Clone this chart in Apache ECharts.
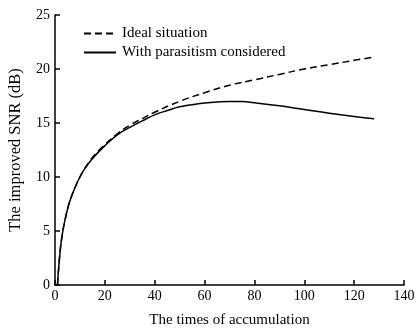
<!DOCTYPE html>
<html><head><meta charset="utf-8">
<script src="https://cdn.jsdelivr.net/npm/echarts@6/dist/echarts.min.js"></script>
<style>html,body{margin:0;padding:0;background:#fff}#c{width:420px;height:331px}</style>
</head><body><div id="c"></div>
<script>
const seriesNames = ['Ideal situation', 'With parasitism considered'];
const idealX = [1, 2, 3, 4, 5, 6, 8, 10, 12, 15, 20, 25, 30, 35, 40, 50, 60, 70, 80, 90, 100, 110, 120, 128];
const idealY = [0, 3.0, 4.8, 6.0, 7.0, 7.8, 9.0, 10.0, 10.8, 11.8, 13.0, 14.0, 14.8, 15.4, 16.0, 17.0, 17.8, 18.5, 19.0, 19.5, 20.0, 20.4, 20.8, 21.1];
const parasX = [1, 2, 3, 4, 5, 6, 8, 10, 12, 15, 20, 25, 30, 35, 40, 45, 50, 55, 60, 65, 70, 75, 80, 90, 100, 110, 120, 128];
const parasY = [0, 3.0, 4.8, 6.0, 7.0, 7.8, 9.0, 10.0, 10.8, 11.7, 12.9, 13.9, 14.6, 15.2, 15.75, 16.15, 16.5, 16.7, 16.85, 16.95, 17.0, 16.98, 16.87, 16.6, 16.25, 15.9, 15.6, 15.4];
const xTicks = [0, 20, 40, 60, 80, 100, 120, 140];
const yTicks = [0, 5, 10, 15, 20, 25];
const xName = 'The times of accumulation';
const yName = 'The improved SNR (dB)';

const font = 'Liberation Serif';
const chart = echarts.init(document.getElementById('c'));
const zip = (xs, ys) => xs.map((x, i) => [x, ys[i]]);
chart.setOption({
  animation: false,
  textStyle: { fontFamily: font },
  grid: { left: 55, right: 16, top: 15, bottom: 46, containLabel: false, outerBoundsMode: 'none' },
  legend: {
    left: 78, top: 21, orient: 'vertical', itemGap: 4, itemWidth: 32, itemHeight: 14,
    itemStyle: { opacity: 0 },
    textStyle: { fontFamily: font, fontSize: 15, color: '#000', padding: [0, 0, 0, 1] },
    data: seriesNames
  },
  xAxis: {
    type: 'value', min: xTicks[0], max: xTicks[xTicks.length - 1], interval: 20,
    name: xName, nameLocation: 'middle', nameGap: 28,
    nameTextStyle: { fontFamily: font, fontSize: 15, color: '#000' },
    axisLine: { lineStyle: { color: '#000', width: 1.5 } },
    axisTick: { inside: true, length: 5, lineStyle: { color: '#000', width: 1.5 } },
    axisLabel: { fontFamily: font, fontSize: 14, color: '#000', margin: 4 },
    splitLine: { show: false }
  },
  yAxis: {
    type: 'value', min: yTicks[0], max: yTicks[yTicks.length - 1], interval: 5,
    name: yName, nameLocation: 'middle', nameGap: 31,
    nameTextStyle: { fontFamily: font, fontSize: 16.5, color: '#000' },
    axisLine: { show: true, lineStyle: { color: '#000', width: 1.5 } },
    axisTick: { show: true, inside: true, length: 5, lineStyle: { color: '#000', width: 1.5 } },
    axisLabel: { fontFamily: font, fontSize: 14, color: '#000', margin: 5 },
    splitLine: { show: false }
  },
  series: [
    { name: seriesNames[0], type: 'line', smooth: true, symbol: 'none', data: zip(idealX, idealY),
      lineStyle: { color: '#000', width: 1.5, type: [7, 4] }, itemStyle: { color: '#000' } },
    { name: seriesNames[1], type: 'line', smooth: true, symbol: 'none', data: zip(parasX, parasY),
      lineStyle: { color: '#000', width: 1.5, type: 'solid' }, itemStyle: { color: '#000' } }
  ]
});
</script></body></html>
